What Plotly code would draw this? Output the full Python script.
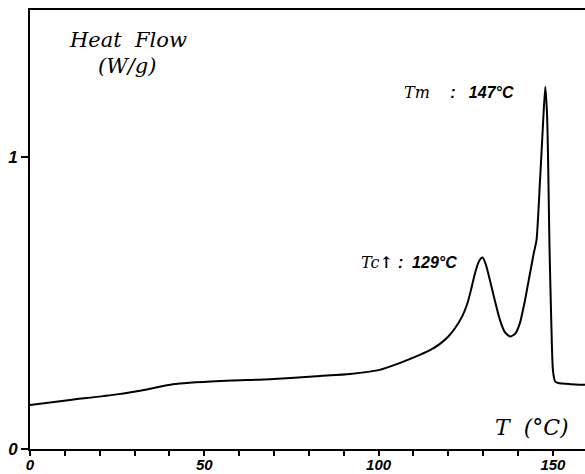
import plotly.graph_objects as go

T = [0, 11.5, 24.9, 33.5, 41, 54.5, 68.8, 83.2, 91.8, 100, 106, 111.8, 115, 117.6,
     120, 122, 124, 125.5, 126.5, 127.5, 128.5, 129.3, 129.9, 130.8, 131.9, 133.3,
     134.8, 136.2, 137.7, 139.2, 140.5, 142, 143.4, 144.5, 145.3, 146.3, 147.1,
     147.8, 148.3, 148.6, 149.0, 149.5, 150.0, 150.6, 151.5, 155, 159.2]
HF = [0.151, 0.168, 0.187, 0.204, 0.222, 0.233, 0.239, 0.25, 0.257, 0.27, 0.294,
      0.322, 0.34, 0.36, 0.385, 0.415, 0.455, 0.50, 0.545, 0.595, 0.635, 0.652,
      0.655, 0.63, 0.579, 0.51, 0.442, 0.40, 0.385, 0.395, 0.43, 0.51, 0.6, 0.67,
      0.716, 0.92, 1.1, 1.24, 1.15, 1.0, 0.7, 0.45, 0.27, 0.232, 0.226, 0.222, 0.22]

x_tickvals = list(range(0, 160, 10))
x_ticktext = [str(v) if v % 50 == 0 else "" for v in x_tickvals]
y_tickvals = [0, 1]
y_ticktext = ["0", "1"]

serif = "DejaVu Serif"
sans = "Liberation Sans"

fig = go.Figure()
fig.add_trace(go.Scatter(x=T, y=HF, mode="lines",
                         line=dict(color="black", width=2, shape="spline", smoothing=0.6),
                         hoverinfo="skip", showlegend=False))

ann = [
    dict(x=28.1, y=1.40, text="<i>Heat  Flow</i>", font=dict(family=serif, size=21)),
    dict(x=28.1, y=1.31, text="<i>(W/g)</i>", font=dict(family=serif, size=21)),
    dict(x=123, y=1.219,
         text=f"<i>Tm</i>    <span style='font-family:{sans}'><b><i>:   147°C</i></b></span>",
         font=dict(family=serif, size=16)),
    dict(x=108.7, y=0.64,
         text=f"<i>Tc</i><b>↑</b> <span style='font-family:{sans}'><b><i>:  129°C</i></b></span>",
         font=dict(family=serif, size=16)),
    dict(x=144, y=0.072, text="<i>T  (°C)</i>", font=dict(family=serif, size=22)),
]
for a in ann:
    fig.add_annotation(xref="x", yref="y", showarrow=False, xanchor="center", yanchor="middle",
                       font_color="black", **a)

fig.update_xaxes(range=[0, 159.2], tickvals=x_tickvals, ticktext=x_ticktext,
                 ticks="outside", ticklen=5, tickwidth=2, tickcolor="black",
                 ticklabelstandoff=-4,
                 showline=True, linewidth=2, linecolor="black", mirror=True,
                 showgrid=False, zeroline=False, automargin=False,
                 tickfont=dict(family=sans, size=15, color="black", weight="bold", style="italic"))
fig.update_yaxes(range=[0, 1.503], tickvals=y_tickvals, ticktext=y_ticktext,
                 ticks="outside", ticklen=7, tickwidth=2, tickcolor="black",
                 showline=True, linewidth=2, linecolor="black",
                 showgrid=False, zeroline=False, automargin=False,
                 tickfont=dict(family=sans, size=17, color="black", weight="bold", style="italic"))

fig.update_layout(width=585, height=474, margin=dict(l=30, r=0, t=10, b=25),
                  paper_bgcolor="white", plot_bgcolor="white")
fig.write_html("out.html")
